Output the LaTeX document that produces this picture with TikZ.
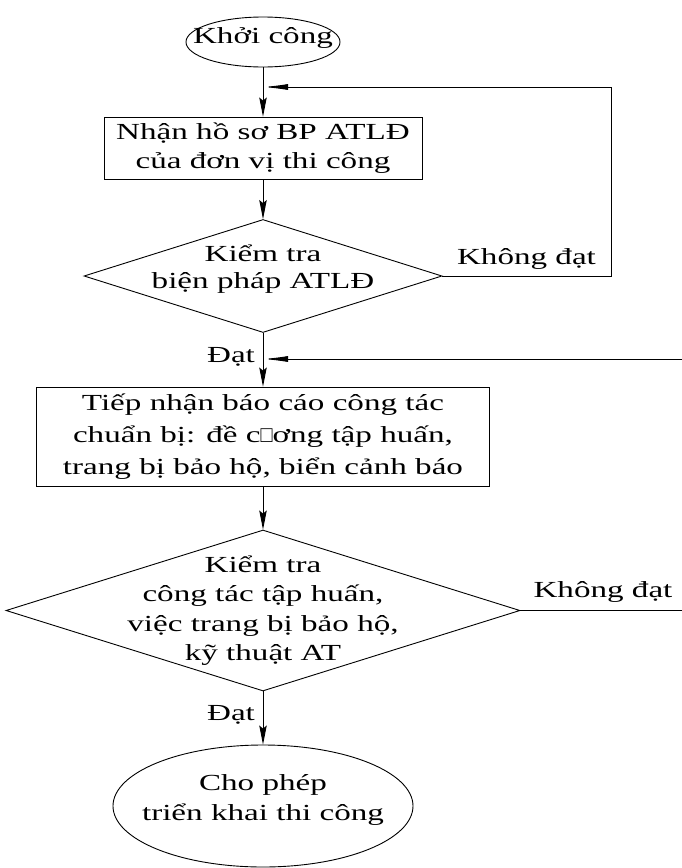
\documentclass[tikz,border=0pt]{standalone}
\usepackage{fontspec}
\setmainfont{Liberation Serif}[FakeStretch=1.44]
\usetikzlibrary{shapes.geometric,arrows.meta}
\begin{document}
\begin{tikzpicture}[x=1pt,y=-1pt,
 base/.style={draw=black, line width=0.9pt, inner sep=0pt},
 term/.style={base, ellipse},
 proc/.style={base, rectangle, align=center, font=\fontsize{23pt}{29pt}\selectfont},
 dec/.style={base, diamond},
 txt/.style={align=center, inner sep=0pt, font=\fontsize{23pt}{29pt}\selectfont},
 lab/.style={inner sep=0pt, anchor=base, font=\fontsize{23pt}{29pt}\selectfont},
 flow/.style={line width=0.9pt, -{Stealth[length=19pt,width=7.5pt,inset=3pt]}},
 joinarr/.style={line width=0.9pt, -{Latex[length=25pt,width=6pt]}},
 plain/.style={line width=0.9pt}]
\useasboundingbox (0,0) rectangle (682,868);

\node[term, minimum width=154pt, minimum height=50pt] (start) at (263,42) {};
\node[txt] (startT) at ([yshift=4pt]start.center) {Khởi công};

\node[proc, minimum width=318pt, minimum height=62pt] (b1) at (263,148) {Nhận hồ sơ BP ATLĐ\\của đơn vị thi công};

\node[dec, minimum width=358pt, minimum height=113pt] (d1) at (263,276) {};
\node[txt, font=\fontsize{23pt}{27pt}\selectfont] (d1T) at ([yshift=7pt]d1.center) {Kiểm tra\\biện pháp ATLĐ};

\node[proc, minimum width=453pt, minimum height=99pt, font=\fontsize{23pt}{32pt}\selectfont] (b2) at (263,436.5) {Tiếp nhận báo cáo công tác\\chuẩn bị: đề c\scalebox{0.6}[1]{□}ơng tập huấn,\\trang bị bảo hộ, biển cảnh báo};

\node[dec, minimum width=514pt, minimum height=161pt] (d2) at (263,610.5) {};
\node[txt, font=\fontsize{23pt}{29.5pt}\selectfont] (d2T) at (d2.center) {Kiểm tra\\công tác tập huấn,\\việc trang bị bảo hộ,\\kỹ thuật AT};

\node[term, minimum width=300pt, minimum height=122pt] (end) at (263,806) {};
\node[txt, font=\fontsize{23pt}{30pt}\selectfont] (endT) at ([yshift=6pt]end.center) {Cho phép\\triển khai thi công};

\node[lab] (no1) at (526.5,264) {Không đạt};
\node[lab] (no2) at (603,597) {Không đạt};
\node[lab] (ok1) at (231,362) {Đạt};
\node[lab] (ok2) at (231,720) {Đạt};

\coordinate (j1) at (263,87);
\coordinate (r1) at (611,276);
\coordinate (j2) at (263,359);
\coordinate (e3) at (682,359);
\coordinate (e2) at (682,610.5);

\draw[flow] (start) -- (b1);
\draw[flow] (b1) -- (d1);
\draw[flow] (d1) -- (b2);
\draw[flow] (b2) -- (d2);
\draw[flow] (d2) -- (end);
\draw[joinarr] (d1.east) -- (r1) -- (r1 |- j1) -- (j1);
\draw[joinarr] (e3) -- (j2);
\draw[plain] (d2.east) -- (e2);
\end{tikzpicture}
\end{document}
